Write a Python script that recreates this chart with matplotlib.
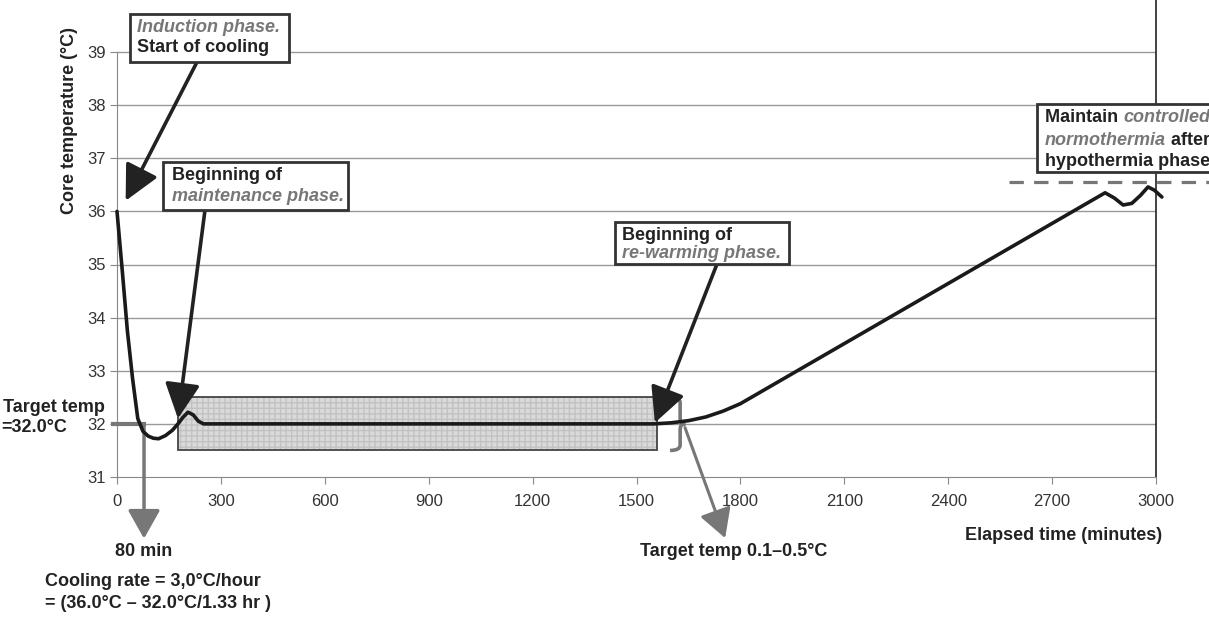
import matplotlib.pyplot as plt
from matplotlib.patches import Rectangle, PathPatch
from matplotlib.path import Path

plt.rcParams['font.family'] = ['Liberation Sans', 'DejaVu Sans']

# core temperature curve
time_min = [0, 15, 30, 45, 60, 75, 90, 105, 120, 140, 160, 176, 190, 205, 220, 235, 250,
            1550, 1600, 1650, 1700, 1750, 1800, 2853, 2880, 2905, 2930, 2955, 2977, 2995, 3017]
core_temp = [36.0, 34.9, 33.75, 32.85, 32.1, 31.86, 31.77, 31.73, 31.72, 31.78, 31.88, 32.0,
             32.12, 32.22, 32.17, 32.05, 32.0,
             32.0, 32.02, 32.06, 32.13, 32.24, 32.38, 36.35, 36.25, 36.12, 36.15, 36.3, 36.46,
             36.4, 36.27]

x_ticks = [0, 300, 600, 900, 1200, 1500, 1800, 2100, 2400, 2700, 3000]
y_ticks = [31, 32, 33, 34, 35, 36, 37, 38, 39]

target_temp = 32.0
cooling_done_min = 78
band_start, band_end = 176, 1560
band_low, band_high = 31.5, 32.5
normo_level = 36.55
normo_start = 2575

W, H = 1209, 619
DARK = '#222222'
GREY = '#777777'


def fx(x):
    return x / W


def fy(y):
    return 1 - y / H


fig = plt.figure(figsize=(W / 100, H / 100), dpi=100)
fig.patch.set_facecolor('white')
ax = fig.add_axes([fx(117), fy(477), (1156 - 117) / W, 477 / H])

ax.set_xlim(0, 3000)
ax.set_ylim(31, 31 + 477 / 53.125)
ax.set_xticks(x_ticks)
ax.set_yticks(y_ticks)
ax.tick_params(direction='out', length=5, color='#888888', labelcolor='#333333', labelsize=12)
ax.tick_params(axis='x', pad=7)
ax.tick_params(axis='y', pad=3)
for y in y_ticks[1:]:
    ax.axhline(y, color='#999999', lw=1, zorder=1)
ax.spines['top'].set_visible(False)
ax.spines['left'].set_color('#888888')
ax.spines['left'].set_bounds(31, 39)
ax.spines['bottom'].set_color('#888888')
ax.spines['right'].set_color('#222222')
ax.spines['right'].set_linewidth(1.2)

# maintenance band
ax.add_patch(Rectangle((band_start, band_low), band_end - band_start, band_high - band_low,
                       facecolor='#dadada', edgecolor='#c2c2c2', hatch='+++', lw=0, zorder=2))
ax.add_patch(Rectangle((band_start, band_low), band_end - band_start, band_high - band_low,
                       fill=False, edgecolor='#444444', lw=1.3, zorder=3))

ax.plot(time_min, core_temp, color='#1a1a1a', lw=2.6, zorder=6, clip_on=False,
        solid_joinstyle='round', solid_capstyle='round')

# normothermia dashed level
ax.plot([normo_start, 3175], [normo_level, normo_level], color=GREY, lw=2.3,
        dashes=(4.5, 3.2), clip_on=False, zorder=4)

# grey arrow at the end of cooling
ax.plot([-12, cooling_done_min], [target_temp, target_temp], color=GREY, lw=3, clip_on=False, zorder=5)
ax.annotate('', xy=(cooling_done_min, 29.84), xytext=(cooling_done_min, target_temp),
            arrowprops=dict(arrowstyle='-|>,head_length=0.8,head_width=0.45', color=GREY, lw=2.5,
                            shrinkA=0, shrinkB=0, mutation_scale=22),
            annotation_clip=False, zorder=5)

# brace and grey arrow for the target range
xl, xm, xp = 1597, 1626, 1641
verts = [(xl, 32.5), (xm, 32.5), (xm, 32.4), (xm, 32.1), (xm, 32.0), (xp, 32.0),
         (xp, 32.0), (xm, 32.0), (xm, 31.9), (xm, 31.6), (xm, 31.5), (xl, 31.5)]
codes = [Path.MOVETO, Path.CURVE3, Path.CURVE3, Path.LINETO, Path.CURVE3, Path.CURVE3,
         Path.MOVETO, Path.CURVE3, Path.CURVE3, Path.LINETO, Path.CURVE3, Path.CURVE3]
ax.add_patch(PathPatch(Path(verts, codes), fill=False, edgecolor=GREY, lw=2.6, zorder=5))
ax.annotate('', xy=(1756, 29.85), xytext=(1640, 31.93),
            arrowprops=dict(arrowstyle='-|>,head_length=0.8,head_width=0.45', color=GREY, lw=2.2,
                            shrinkA=0, shrinkB=0, mutation_scale=22),
            annotation_clip=False, zorder=5)


def box(x0, y0, x1, y1):
    ax.add_patch(Rectangle((fx(x0), fy(y1)), (x1 - x0) / W, (y1 - y0) / H,
                           transform=fig.transFigure, facecolor='white', edgecolor='#333333',
                           lw=2, zorder=7, clip_on=False))


def mixed(x, y, parts):
    # one line of box text, pieces in plain bold or grey bold italic
    last = None
    for s, grey in parts:
        kw = dict(fontsize=13, fontweight='bold', color=GREY if grey else DARK,
                  fontstyle='italic' if grey else 'normal', va='center', ha='left', zorder=8)
        if last is None:
            last = ax.text(fx(x), fy(y), s, transform=fig.transFigure, clip_on=False, **kw)
        else:
            last = ax.annotate(s, xy=(1, 0.5), xycoords=last, annotation_clip=False, **kw)


# arrows from the boxes
def pointer(tip, base):
    ax.annotate('', xy=tip, xytext=(fx(base[0]), fy(base[1])), textcoords='figure fraction',
                arrowprops=dict(arrowstyle='-|>,head_length=0.9,head_width=0.45', color=DARK, lw=2.6,
                                shrinkA=0, shrinkB=0, mutation_scale=24),
                annotation_clip=False, zorder=6)


pointer((25, 36.2), (197, 62))
pointer((176, 32.1), (205, 210))
pointer((1553, 32.02), (717, 264))

box(130, 14, 289, 62)
mixed(137, 28, [('Induction phase.', True)])
mixed(137, 48, [('Start of cooling', False)])

box(163, 162, 348, 210)
mixed(172, 176, [('Beginning of', False)])
mixed(172, 197, [('maintenance phase.', True)])

box(615, 222, 789, 264)
mixed(622, 235, [('Beginning of', False)])
mixed(622, 254, [('re-warming phase.', True)])

box(1037, 104, 1225, 172)
mixed(1045, 118, [('Maintain ', False), ('controlled', True)])
mixed(1045, 140, [('normothermia', True), (' after', False)])
mixed(1045, 161, [('hypothermia phase', False)])

bold = dict(fontsize=13, fontweight='bold', color=DARK, va='center')
fig.text(fx(70), fy(121), 'Core temperature (°C)', rotation=90, ha='center', **bold)
fig.text(fx(1064), fy(535), 'Elapsed time (minutes)', ha='center', **bold)
fig.text(fx(3), fy(408), 'Target temp', ha='left', **bold)
fig.text(fx(1), fy(428), '=32.0°C', ha='left', **bold)
fig.text(fx(115), fy(552), '80 min', ha='left', **bold)
fig.text(fx(45), fy(582), 'Cooling rate = 3,0°C/hour', ha='left', **bold)
fig.text(fx(45), fy(603), '= (36.0°C – 32.0°C/1.33 hr )', ha='left', **bold)
fig.text(fx(640), fy(552), 'Target temp 0.1–0.5°C', ha='left', **bold)

fig.savefig('out.png', dpi=100)
